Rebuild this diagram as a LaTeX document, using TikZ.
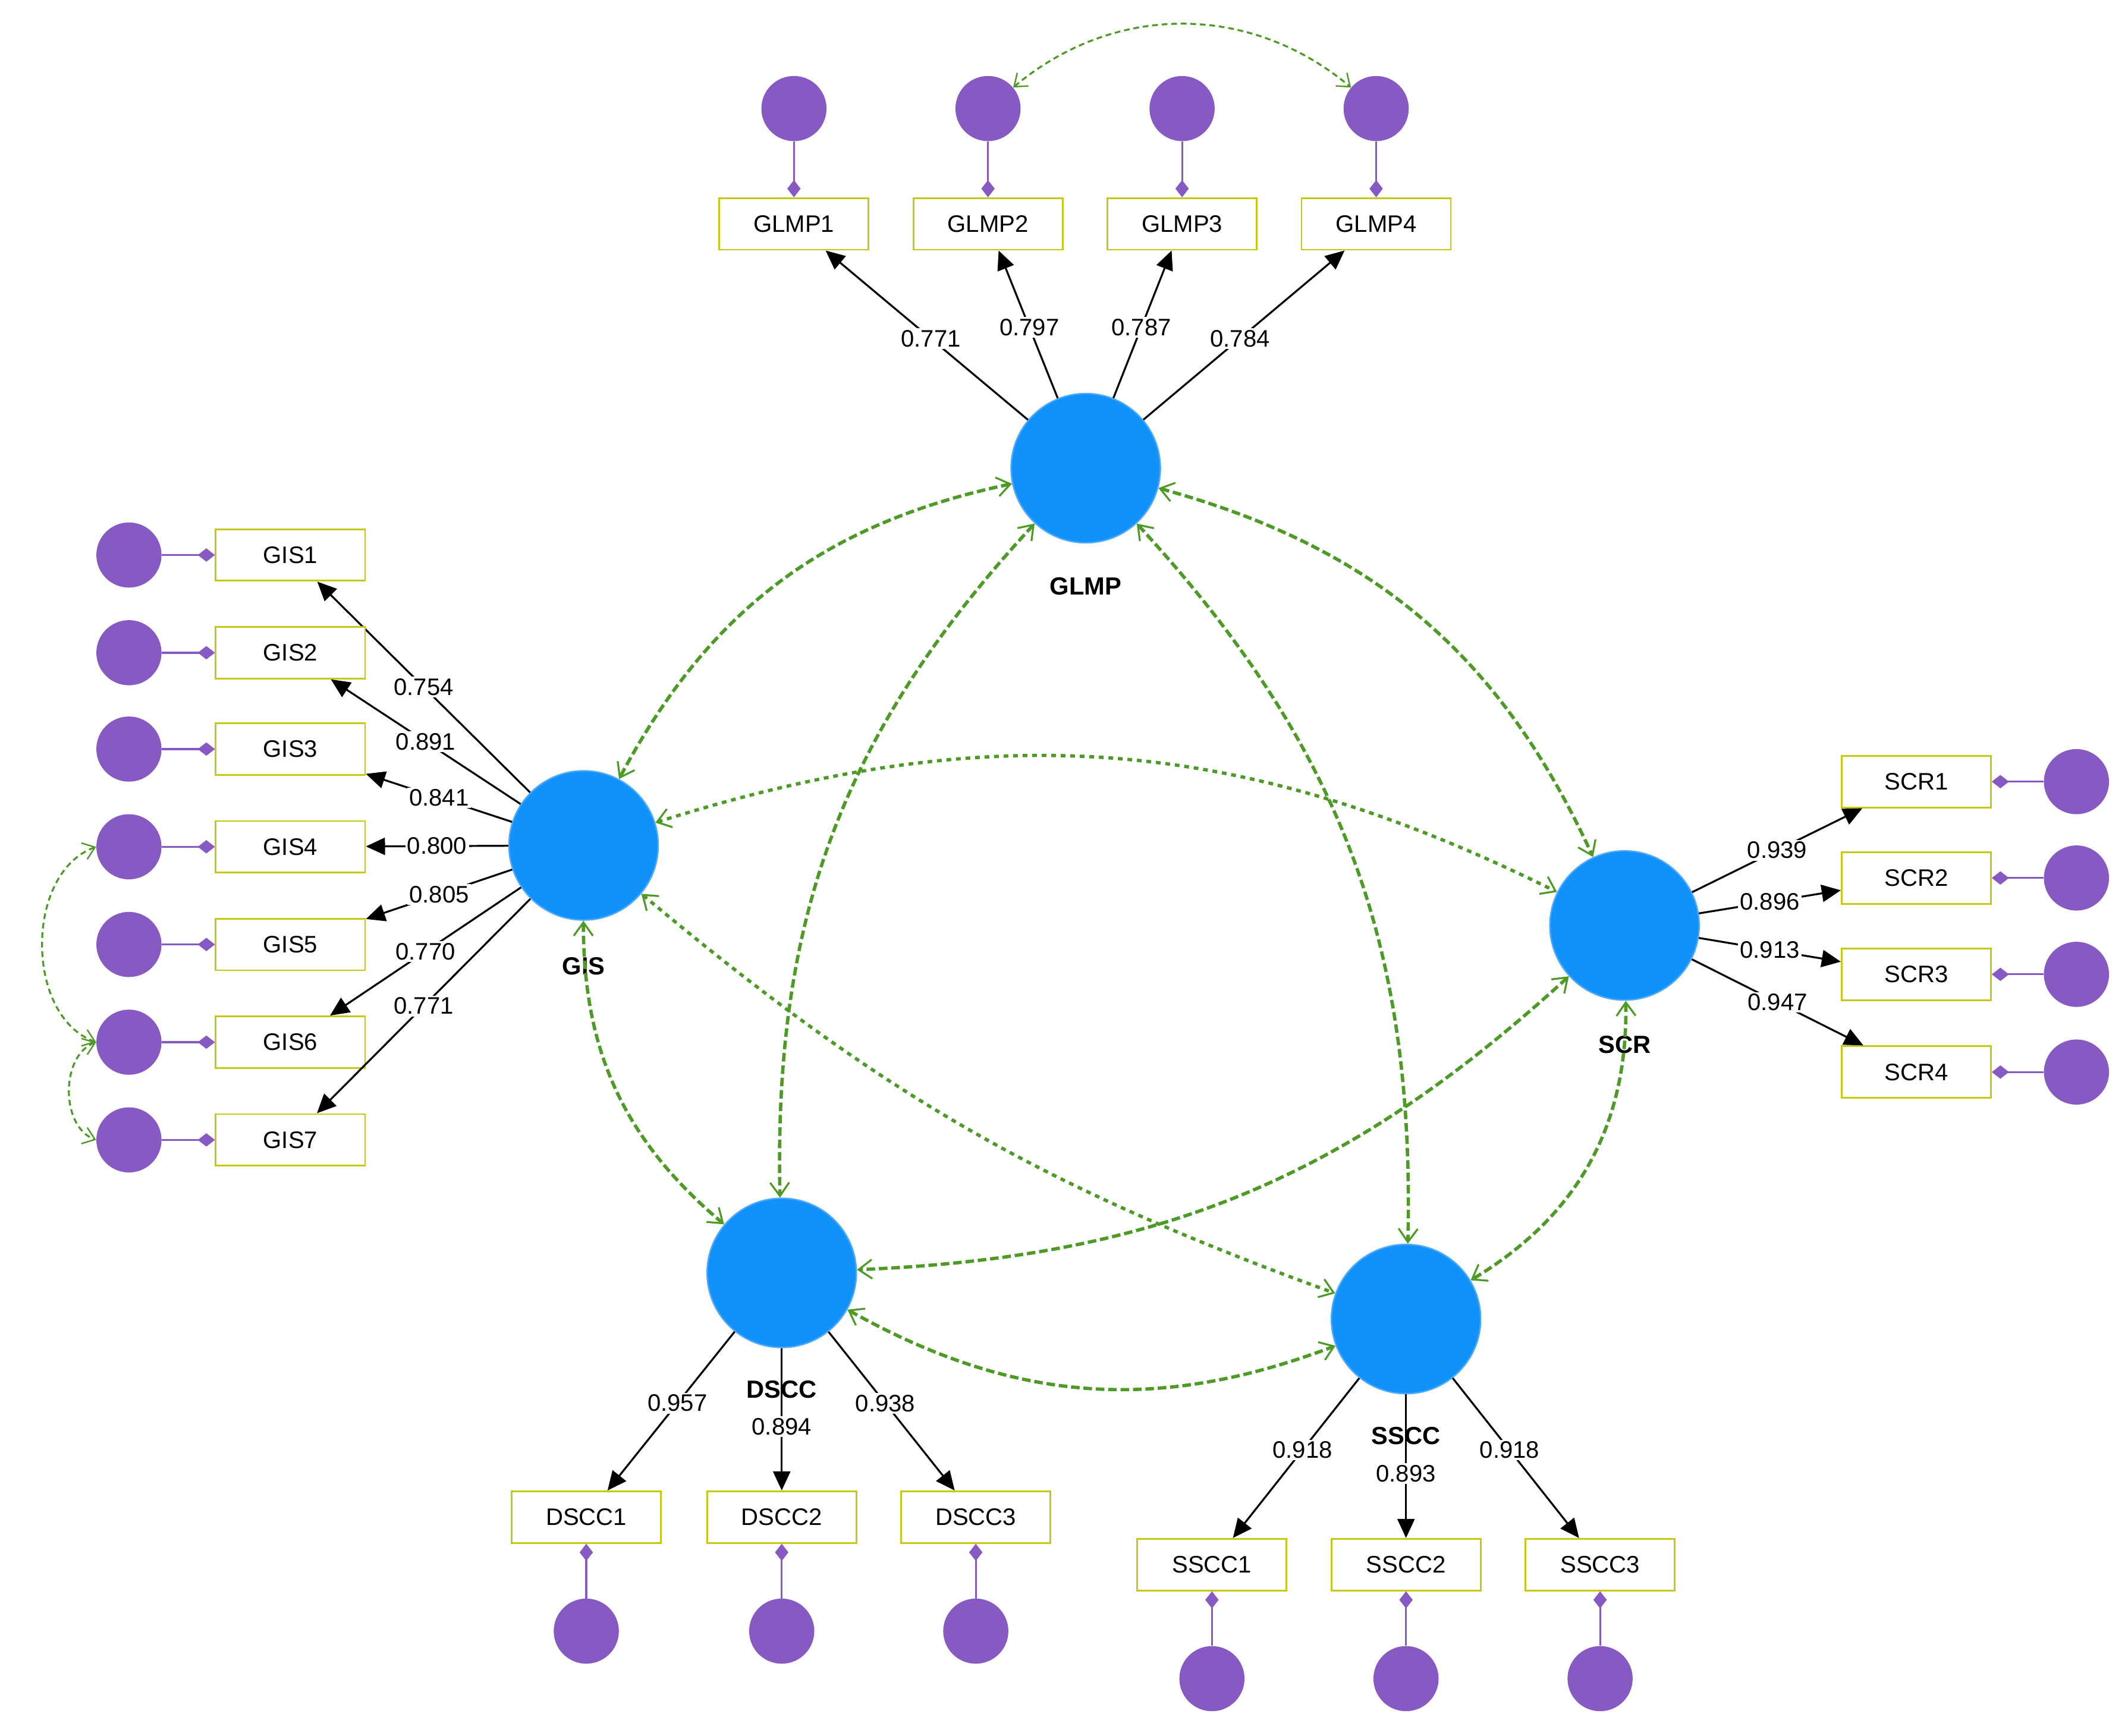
\documentclass[tikz,border=0pt]{standalone}
\usepackage{fontspec}
\setmainfont{Liberation Sans}
\usetikzlibrary{arrows.meta}
\definecolor{cblue}{RGB}{17,145,250}
\definecolor{cblueb}{RGB}{80,170,250}
\definecolor{cpur}{RGB}{134,90,194}
\definecolor{cyel}{RGB}{200,200,20}
\definecolor{cgrn}{RGB}{77,154,38}
\tikzset{
 lv/.style={circle,fill=cblue,draw=cblueb,line width=1.5pt,minimum size=5.5cm,inner sep=0},
 ind/.style={rectangle,draw=cyel,line width=1.8pt,fill=white,minimum width=5.5cm,minimum height=1.9cm,font=\fontsize{25}{30}\selectfont},
 err/.style={circle,fill=cpur,minimum size=2.4cm,inner sep=0},
 lab/.style={font=\fontsize{26}{30}\selectfont\bfseries},
 ld/.style={black,line width=2pt,-{Triangle[length=20pt,width=18pt]}},
 num/.style={fill=white,inner sep=2pt,font=\fontsize{25}{30}\selectfont},
 el/.style={cpur,line width=2pt,-{Diamond[length=18pt,width=14pt]}},
 cov/.style={cgrn,line width=3.5pt,dash pattern=on 9pt off 4pt,{Straight Barb[length=14pt,width=20pt,line width=2pt]}-{Straight Barb[length=14pt,width=20pt,line width=2pt]}},
 covd/.style={cov,dash pattern=on 5pt off 5pt},
 ecov/.style={cgrn,line width=2pt,dash pattern=on 6pt off 4pt,{Straight Barb[length=12pt,width=18pt,line width=1.5pt]}-{Straight Barb[length=12pt,width=18pt,line width=1.5pt]}}
}
\begin{document}
\begin{tikzpicture}[x=0.05cm,y=-0.05cm]
\useasboundingbox[fill=white] (0,0) rectangle (1568,1279);
% constructs
\node[lv] (GLMP) at (800,345) {};
\node[lv] (GIS) at (430,623) {};
\node[lv] (SCR) at (1197,682) {};
\node[lv] (DSCC) at (576,938) {};
\node[lv] (SSCC) at (1036,972) {};
\node[lab] at (800,432) {GLMP};
\node[lab] at (430,712) {GIS};
\node[lab] at (1197,770) {SCR};
\node[lab] at (576,1024) {DSCC};
\node[lab] at (1036,1058) {SSCC};
% GLMP indicators
\foreach \i/\x/\v in {1/585/0.771,2/728/0.797,3/871/0.787,4/1014/0.784}{
 \node[ind] (GLMP\i) at (\x,165) {GLMP\i};
 \node[err] (eGLMP\i) at (\x,80) {};
 \draw[el] (eGLMP\i) -- (GLMP\i);
 \draw[ld] (GLMP) -- node[num,pos=0.48]{\v} (GLMP\i);
}
% GIS indicators
\foreach \i/\y/\v in {1/409/0.754,2/481/0.891,3/552/0.841,4/624/0.800,5/696/0.805,6/768/0.770,7/840/0.771}{
 \node[ind] (GIS\i) at (214,\y) {GIS\i};
 \node[err] (eGIS\i) at (95,\y) {};
 \draw[el] (eGIS\i) -- (GIS\i);
 \draw[ld] (GIS) -- node[num,pos=0.5]{\v} (GIS\i);
}
% SCR indicators
\foreach \i/\y/\v in {1/576/0.939,2/647/0.896,3/718/0.913,4/790/0.947}{
 \node[ind] (SCR\i) at (1412,\y) {SCR\i};
 \node[err] (eSCR\i) at (1530,\y) {};
 \draw[el] (eSCR\i) -- (SCR\i);
 \draw[ld] (SCR) -- node[num,pos=0.5]{\v} (SCR\i);
}
% DSCC indicators
\foreach \i/\x/\v/\p in {1/432/0.957/0.45,2/576/0.894/0.55,3/719/0.938/0.45}{
 \node[ind] (DSCC\i) at (\x,1118) {DSCC\i};
 \node[err] (eDSCC\i) at (\x,1202) {};
 \draw[el] (eDSCC\i) -- (DSCC\i);
 \draw[ld] (DSCC) -- node[num,pos=\p]{\v} (DSCC\i);
}
% SSCC indicators
\foreach \i/\x/\v/\p in {1/893/0.918/0.45,2/1036/0.893/0.55,3/1179/0.918/0.45}{
 \node[ind] (SSCC\i) at (\x,1153) {SSCC\i};
 \node[err] (eSSCC\i) at (\x,1237) {};
 \draw[el] (eSSCC\i) -- (SSCC\i);
 \draw[ld] (SSCC) -- node[num,pos=\p]{\v} (SSCC\i);
}
% covariances
\draw[cov] (GLMP) to[bend right=25] (GIS);
\draw[cov] (GLMP) to[bend left=25] (SCR);
\draw[covd] (GIS) to[bend left=22] (SCR);
\draw[cov] (GLMP) to[bend right=22] (DSCC);
\draw[cov] (GLMP) to[bend left=22] (SSCC);
\draw[cov] (GIS) to[bend right=25] (DSCC);
\draw[covd] (GIS) to[bend right=10] (SSCC);
\draw[cov] (SCR) to[bend left=20] (DSCC);
\draw[cov] (SCR) to[bend left=30] (SSCC);
\draw[cov] (DSCC) to[bend right=25] (SSCC);
% error covariances
\draw[ecov] (eGLMP2) to[bend left=40] (eGLMP4);
\draw[ecov] (eGIS4.west) to[bend right=70] (eGIS6.west);
\draw[ecov] (eGIS6.west) to[bend right=70] (eGIS7.west);
\end{tikzpicture}
\end{document}
